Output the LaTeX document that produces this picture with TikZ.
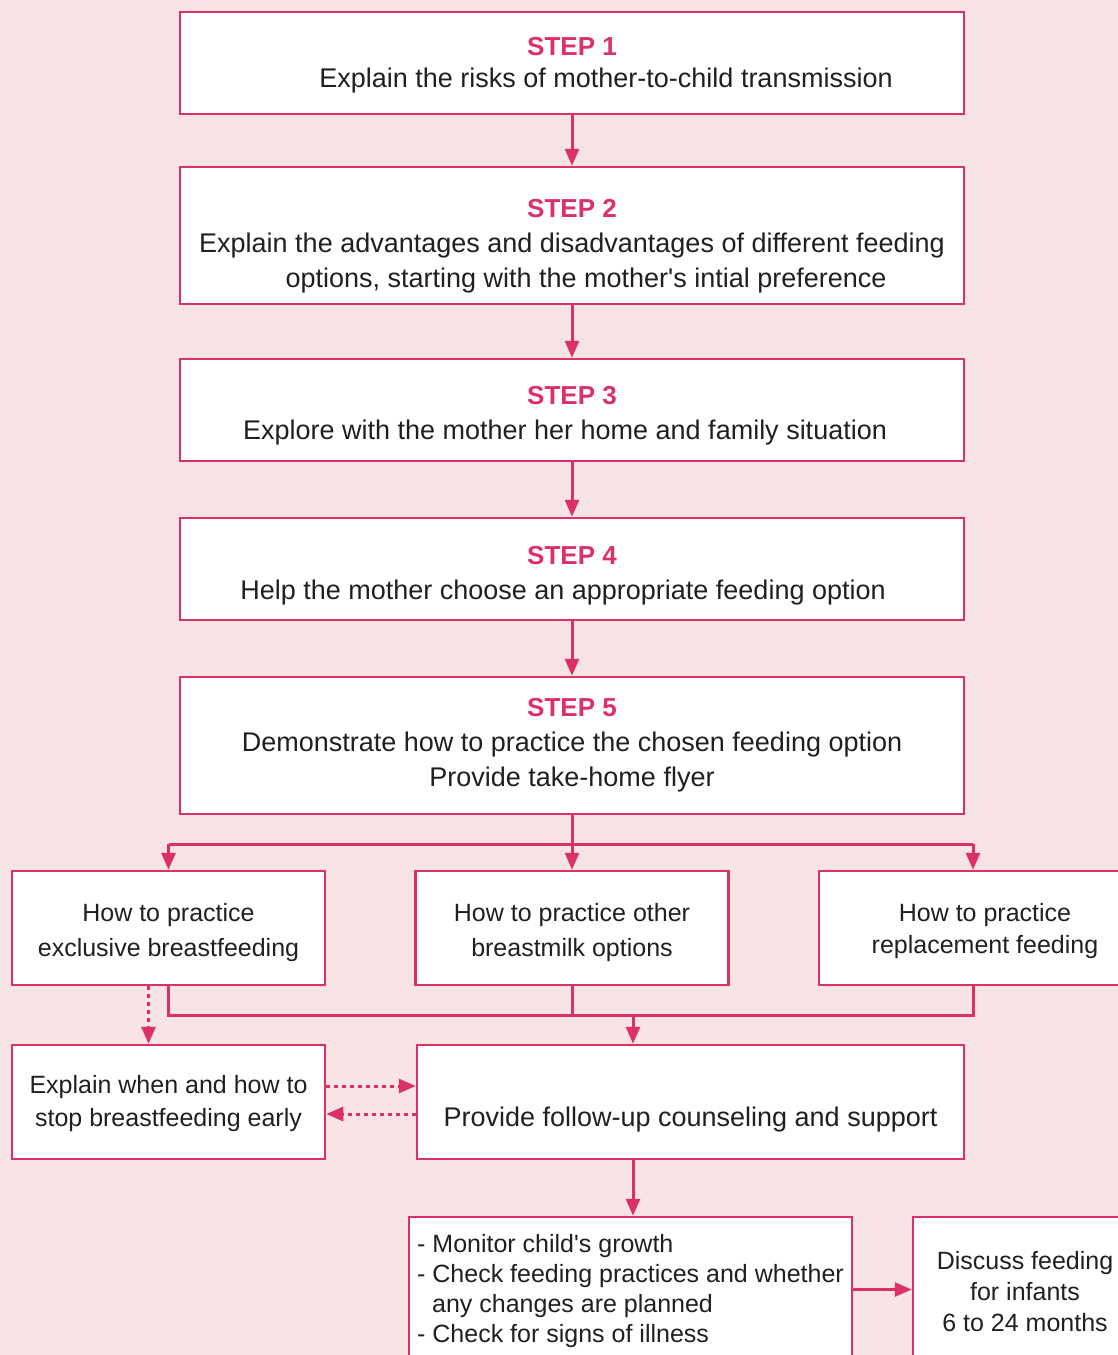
\documentclass[tikz,border=0pt]{standalone}
\usepackage{fontspec}
\setmainfont{Liberation Sans}
\usetikzlibrary{arrows.meta,calc}
\definecolor{bgpink}{HTML}{F8E3E5}
\definecolor{mag}{HTML}{DC3168}
\definecolor{txt}{HTML}{231F20}
\newcommand\stephead[1]{{\color{mag}\bfseries\fontsize{26}{35}\selectfont #1}}
\newcommand\upstrut[1]{\rule{0pt}{#1pt}}
\newcommand\sq{\textquotesingle}
\begin{document}
\begin{tikzpicture}[x=1pt,y=-1pt,
  box/.style={draw=mag, line width=2.5pt, fill=white, inner sep=0pt, text=txt, align=center},
  stepbox/.style={box, minimum width=784pt, font=\fontsize{27}{35}\selectfont},
  smallbox/.style={box, minimum width=313pt, minimum height=114pt},
  conn/.style={draw=mag, line width=3pt},
  arr/.style={conn, -{Triangle[length=17pt,width=14pt]}},
  dotarr/.style={arr, dash pattern=on 4pt off 4pt}]
\useasboundingbox (0,0) rectangle (1118,1355);
\clip (0,0) rectangle (1118,1355);
\fill[bgpink] (0,0) rectangle (1118,1355);

% steps
\node[stepbox, minimum height=102pt, font=\fontsize{27}{32}\selectfont] (s1) at (572,63)
  {\upstrut{22}\stephead{STEP 1}\\\hspace*{68pt}Explain the risks of mother-to-child transmission};
\node[stepbox, minimum height=137pt] (s2) at (572,235.5)
  {\upstrut{39}\stephead{STEP 2}\\Explain the advantages and disadvantages of different feeding\hspace*{12pt}\\\hspace*{28pt}options, starting with the mother\sq s intial preference};
\node[stepbox, minimum height=102pt] (s3) at (572,410)
  {\upstrut{30}\stephead{STEP 3}\\Explore with the mother her home and family situation\hspace*{14pt}};
\node[stepbox, minimum height=102pt] (s4) at (572,569)
  {\upstrut{32}\stephead{STEP 4}\\Help the mother choose an appropriate feeding option\hspace*{18pt}};
\node[stepbox, minimum height=137pt] (s5) at (572,745.5)
  {\stephead{STEP 5}\\Demonstrate how to practice the chosen feeding option\hspace*{12pt}\\Provide take-home flyer};

% options
\node[smallbox, font=\fontsize{25}{35}\selectfont] (bA) at (168.5,928)
  {\upstrut{28}How to practice\\exclusive breastfeeding};
\node[smallbox, font=\fontsize{25}{35}\selectfont] (bB) at (572,928)
  {\upstrut{28}How to practice other\\breastmilk options};
\node[smallbox, font=\fontsize{25}{32}\selectfont] (bC) at (975.5,928)
  {\upstrut{24}\hspace*{19pt}How to practice\\\hspace*{19pt}replacement feeding};
\node[smallbox, font=\fontsize{25}{33}\selectfont] (bD) at (168.5,1102)
  {\upstrut{22}Explain when and how to\\stop breastfeeding early};
\node[box, minimum width=547pt, minimum height=114pt, font=\fontsize{27}{33}\selectfont] (bE) at (690.5,1102)
  {\smash{\raisebox{-24pt}{Provide follow-up counseling and support}}};
\node[box, minimum width=443pt, minimum height=145pt, align=left, font=\fontsize{25}{30}\selectfont] (bF) at (630.5,1289.5)
  {\upstrut{22}- Monitor child\sq s growth\\- Check feeding practices and whether\\\hspace*{15pt}any changes are planned\\- Check for signs of illness};
\node[box, minimum width=224pt, minimum height=145pt, font=\fontsize{25}{31}\selectfont] (bG) at (1025,1289.5)
  {\upstrut{22}Discuss feeding\\for infants\\6 to 24 months};

% step arrows
\draw[arr] (s1.south) -- (s2.north);
\draw[arr] (s2.south) -- (s3.north);
\draw[arr] (s3.south) -- (s4.north);
\draw[arr] (s4.south) -- (s5.north);

% split
\draw[conn] (s5.south) -- ++(0,29) coordinate (sp);
\coordinate (cIn) at ($(bC.north)+(-2.5,0)$);
\draw[conn] (sp -| bA.north) -- (sp -| cIn);
\draw[arr] (sp -| bA.north) -- (bA.north);
\draw[arr] (sp) -- (bB.north);
\draw[arr] (sp -| cIn) -- (cIn);

% merge
\coordinate (cOut) at ($(bC.south)+(-2.5,0)$);
\draw[conn] (bA.south) -- ++(0,29) coordinate (mg) -| (cOut);
\draw[conn] (bB.south) -- (bB.south |- mg);
\coordinate (eIn) at ($(bE.north)+(-57.5,0)$);
\draw[arr] (eIn |- mg) -- (eIn);

% dotted
\draw[dotarr] ($(bA.south)+(-20,0)$) -- ($(bD.north)+(-20,0)$);
\draw[dotarr] ($(bD.east)+(0,-16)$) -- ($(bE.west)+(0,-16)$);
\draw[dotarr] ($(bE.west)+(0,12)$) -- ($(bD.east)+(0,12)$);

% follow-up
\coordinate (eOut) at ($(bE.south)+(-57.5,0)$);
\draw[arr] (eOut) -- (eOut |- bF.north);
\draw[arr] (bF.east) -- (bG.west);
\end{tikzpicture}
\end{document}
